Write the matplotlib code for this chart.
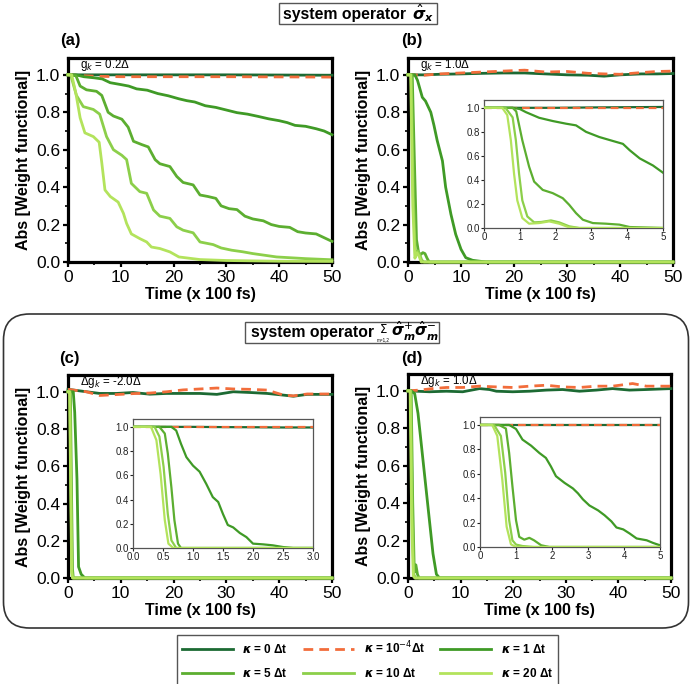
import matplotlib
matplotlib.use("Agg")
import matplotlib.pyplot as plt
from matplotlib.patches import FancyBboxPatch, Rectangle

plt.rcParams['font.family'] = ['Liberation Sans', 'DejaVu Sans']
plt.rcParams['mathtext.fontset'] = 'custom'
plt.rcParams['mathtext.rm'] = 'DejaVu Sans'
plt.rcParams['mathtext.it'] = 'DejaVu Sans:italic'
plt.rcParams['mathtext.bf'] = 'DejaVu Sans:italic:bold'

# ---------------- colours / labels ----------------
kappa_labels = [r"$\mathbf{\kappa}$ = 0 Δt", r"$\mathbf{\kappa}$ = 10$^{-4}$Δt",
                r"$\mathbf{\kappa}$ = 1 Δt", r"$\mathbf{\kappa}$ = 5 Δt",
                r"$\mathbf{\kappa}$ = 10 Δt", r"$\mathbf{\kappa}$ = 20 Δt"]
colors = ['#1c6a33', '#f26d3b', '#3f9a26', '#5cae30', '#8ccf4a', '#b3e35c']

# ---------------- panel (a) ----------------
a_k0_t = [0, 10, 20, 30, 40, 50]
a_k0_y = [1.0, 1.0, 1.0, 1.0, 0.999, 0.998]
a_k4_t = [0, 3, 6, 10, 20, 30, 40, 50]
a_k4_y = [1.0, 0.995, 0.992, 0.99, 0.99, 0.99, 0.989, 0.988]
a_k1_t = [0, 1.5, 3, 5, 6.5, 8, 10, 11.5, 13, 15, 17, 19, 21, 22.5, 24, 26, 28, 30, 32, 34,
          36, 38, 40, 41.5, 43, 45, 47, 48.5, 50]
a_k1_y = [1.0, 1.0, 0.99, 0.984, 0.978, 0.958, 0.948, 0.94, 0.925, 0.918, 0.9, 0.888, 0.872,
          0.862, 0.855, 0.835, 0.826, 0.812, 0.798, 0.79, 0.778, 0.765, 0.755, 0.745, 0.73,
          0.725, 0.712, 0.7, 0.68]
a_k5_t = [0, 1.5, 2.3, 3.5, 5.4, 6.4, 7.6, 8.6, 10.2, 11.4, 12.4, 14, 15.2, 16.5, 17.4, 19.3,
          20.6, 21.8, 23.7, 25, 26.5, 28, 29, 30.5, 32, 33.5, 35, 37, 38.5, 40, 42, 43.5, 45,
          47, 48.5, 50]
a_k5_y = [1.0, 0.995, 0.94, 0.92, 0.912, 0.89, 0.8, 0.78, 0.763, 0.72, 0.645, 0.627, 0.615,
          0.547, 0.525, 0.51, 0.457, 0.425, 0.412, 0.358, 0.35, 0.34, 0.3, 0.285, 0.28, 0.245,
          0.23, 0.22, 0.2, 0.19, 0.185, 0.162, 0.155, 0.15, 0.13, 0.11]
a_k10_t = [0, 0.5, 1.6, 2.9, 4.8, 6, 7.3, 8.6, 10.2, 11.1, 12, 13.6, 14.9, 16.2, 17.4, 19.3,
           20.6, 21.8, 23.7, 25, 27.5, 29, 31, 33, 35, 39.5, 45, 50]
a_k10_y = [1.0, 1.0, 0.89, 0.83, 0.815, 0.79, 0.67, 0.6, 0.57, 0.547, 0.42, 0.376, 0.367,
           0.278, 0.245, 0.233, 0.188, 0.17, 0.156, 0.107, 0.093, 0.075, 0.063, 0.055, 0.045,
           0.027, 0.018, 0.012]
a_k20_t = [0, 0.7, 1.5, 2.3, 3.2, 4.8, 5.9, 6.4, 7, 8, 9.5, 10.5, 11.1, 12, 13.6, 14.9, 15.8,
           17.4, 19.3, 21, 25, 30, 40, 50]
a_k20_y = [1.0, 1.0, 0.9, 0.77, 0.69, 0.67, 0.64, 0.53, 0.385, 0.35, 0.32, 0.26, 0.206, 0.15,
           0.125, 0.107, 0.08, 0.072, 0.054, 0.027, 0.013, 0.008, 0.004, 0.003]

# ---------------- panel (b) ----------------
b_flat_t = [0, 3, 6, 10, 14, 18, 22, 26, 30, 34, 37, 40, 44, 47, 50]
b_k0_y = [1.0, 1.0, 1.003, 1.005, 1.008, 1.01, 1.01, 1.005, 1.0, 0.998, 0.993, 1.0, 1.005, 1.005, 1.007]
b_k4_y = [1.0, 0.998, 1.005, 1.01, 1.015, 1.02, 1.025, 1.015, 1.018, 1.008, 1.005, 1.003, 1.012, 1.018, 1.02]
b_k1_t = [0, 1.3, 1.8, 2.7, 3.3, 4.3, 4.9, 5.5, 6.5, 7.1, 8.1, 9.0, 10.0, 10.9, 12.2, 14.7, 50]
b_k1_y = [1.0, 1.0, 0.97, 0.88, 0.86, 0.8, 0.73, 0.65, 0.54, 0.4, 0.255, 0.148, 0.068, 0.023,
          0.009, 0.0, 0.0]
b_k5_t = [0, 0.8, 1.2, 1.6, 2.0, 2.4, 2.8, 3.2, 3.6, 4.0, 50]
b_k5_y = [1.0, 1.0, 0.55, 0.12, 0.05, 0.04, 0.05, 0.045, 0.02, 0.0, 0.0]
b_k10_t = [0, 0.6, 1.0, 1.4, 1.8, 2.2, 2.6, 3.0, 50]
b_k10_y = [1.0, 1.0, 0.35, 0.03, 0.06, 0.04, 0.01, 0.0, 0.0]
b_k20_t = [0, 0.5, 0.9, 1.3, 1.7, 2.1, 2.5, 50]
b_k20_y = [1.0, 1.0, 0.3, 0.02, 0.05, 0.03, 0.0, 0.0]
# inset (b)
bi_flat_t = [0, 1, 2, 3, 4, 5]
bi_k0_y = [1.0, 1.0, 1.0, 1.003, 1.005, 1.007]
bi_k4_y = [1.0, 1.0, 1.0, 1.0, 1.0, 1.0]
bi_k1_t = [0, 0.8, 1.0, 1.17, 1.54, 1.92, 2.29, 2.57, 2.85, 3.22, 3.6, 3.88, 4.07, 4.35, 4.72, 5.0]
bi_k1_y = [1.0, 1.0, 0.99, 0.964, 0.917, 0.89, 0.868, 0.854, 0.8, 0.757, 0.724, 0.70, 0.647,
           0.579, 0.52, 0.46]
bi_k5_t = [0, 0.8, 0.9, 1.07, 1.26, 1.4, 1.64, 1.92, 2.2, 2.38, 2.57, 2.76, 3.04, 3.4, 3.78, 4.07, 5.0]
bi_k5_y = [1.0, 1.0, 0.97, 0.73, 0.51, 0.386, 0.317, 0.29, 0.248, 0.193, 0.124, 0.069, 0.041,
           0.036, 0.028, 0.008, 0.0]
bi_k10_t = [0, 0.6, 0.8, 0.89, 0.98, 1.07, 1.21, 1.4, 1.6, 1.87, 2.1, 2.38, 2.66, 5.0]
bi_k10_y = [1.0, 1.0, 0.92, 0.73, 0.45, 0.23, 0.096, 0.047, 0.05, 0.063, 0.047, 0.014, 0.0, 0.0]
bi_k20_t = [0, 0.51, 0.65, 0.75, 0.84, 0.93, 1.07, 1.26, 1.54, 1.82, 2.1, 2.38, 2.66, 5.0]
bi_k20_y = [1.0, 1.0, 0.94, 0.73, 0.45, 0.23, 0.083, 0.036, 0.041, 0.055, 0.036, 0.005, 0.0, 0.0]

# ---------------- panel (c) ----------------
c_flat_t = [0, 3.5, 6, 9.2, 12.3, 15.5, 18.7, 21.8, 25, 28.2, 31.3, 34.5, 37.7, 40.8, 42.7, 45.3, 50]
c_k0_y = [1.013, 1.0, 0.991, 0.991, 0.996, 0.987, 0.991, 0.991, 0.991, 0.986, 1.0, 0.996,
          0.991, 0.982, 0.976, 0.986, 0.986]
c_k4_y = [1.013, 1.0, 0.98, 0.985, 0.99, 0.993, 1.0, 1.01, 1.015, 1.02, 1.015, 1.013, 1.009,
          0.982, 0.978, 0.988, 0.988]
c_k1_t = [0, 1.0, 1.27, 1.7, 2.0, 2.5, 3.2, 50]
c_k1_y = [1.0, 1.0, 0.89, 0.53, 0.06, 0.02, 0.0, 0.0]
c_k5_t = [0, 0.45, 0.65, 0.85, 1.0, 50]
c_k5_y = [1.0, 1.0, 0.5, 0.05, 0.0, 0.0]
c_k10_t = [0, 0.35, 0.55, 0.75, 0.9, 50]
c_k10_y = [1.0, 1.0, 0.5, 0.04, 0.0, 0.0]
c_k20_t = [0, 0.3, 0.5, 0.7, 0.85, 50]
c_k20_y = [1.0, 1.0, 0.5, 0.03, 0.0, 0.0]
# inset (c)
ci_flat_t = [0, 0.5, 1, 1.5, 2, 2.5, 3]
ci_k0_y = [1.0, 1.0, 1.0, 0.998, 0.997, 0.995, 0.995]
ci_k4_y = [1.0, 1.0, 1.0, 1.0, 1.0, 1.0, 1.0]
ci_k1_t = [0, 0.64, 0.72, 0.8, 0.89, 1.0, 1.11, 1.22, 1.33, 1.42, 1.5, 1.58, 1.67, 1.78, 1.89,
           2.0, 2.17, 2.33, 2.5, 2.67, 3.0]
ci_k1_y = [1.0, 1.0, 0.97, 0.86, 0.75, 0.68, 0.63, 0.53, 0.42, 0.38, 0.28, 0.19, 0.17, 0.124,
           0.09, 0.036, 0.03, 0.022, 0.008, 0.0, 0.0]
ci_k5_t = [0, 0.44, 0.53, 0.58, 0.64, 0.69, 0.75, 0.8, 3.0]
ci_k5_y = [1.0, 1.0, 0.945, 0.78, 0.5, 0.23, 0.036, 0.0, 0.0]
ci_k10_t = [0, 0.36, 0.44, 0.51, 0.58, 0.64, 0.72, 3.0]
ci_k10_y = [1.0, 1.0, 0.92, 0.67, 0.28, 0.063, 0.0, 0.0]
ci_k20_t = [0, 0.3, 0.39, 0.46, 0.53, 0.59, 0.67, 3.0]
ci_k20_y = [1.0, 1.0, 0.89, 0.61, 0.23, 0.036, 0.0, 0.0]

# ---------------- panel (d) ----------------
d_k0_t = [0, 4.1, 7.3, 10.4, 13.6, 15.5, 16.8, 19.9, 23.1, 26.3, 29.4, 32.6, 35.8, 38.9, 42.1, 45.3, 50]
d_k0_y = [1.0, 0.995, 0.998, 0.995, 1.012, 1.007, 0.998, 0.995, 0.998, 1.004, 1.007, 0.998,
          1.004, 1.012, 1.004, 1.007, 1.012]
d_k4_t = [0, 2.2, 4.7, 7.3, 10.4, 13.6, 16.8, 19.9, 23.1, 26.3, 29.4, 32.6, 35.8, 38.9, 42.7, 45.3, 50]
d_k4_y = [1.0, 1.004, 1.012, 1.018, 1.018, 1.025, 1.021, 1.018, 1.025, 1.03, 1.021, 1.018,
          1.025, 1.025, 1.039, 1.025, 1.025]
d_k1_t = [0, 0.6, 1.27, 1.9, 2.85, 3.8, 4.75, 5.4, 6.0, 50]
d_k1_y = [1.0, 1.0, 0.985, 0.88, 0.63, 0.38, 0.13, 0.02, 0.0, 0.0]
d_k5_t = [0, 0.6, 0.9, 1.2, 1.5, 1.8, 2.1, 50]
d_k5_y = [1.0, 1.0, 0.4, 0.03, 0.07, 0.02, 0.0, 0.0]
d_k10_t = [0, 0.5, 0.8, 1.1, 1.4, 50]
d_k10_y = [1.0, 1.0, 0.35, 0.02, 0.0, 0.0]
d_k20_t = [0, 0.4, 0.7, 1.0, 1.3, 50]
d_k20_y = [1.0, 1.0, 0.3, 0.01, 0.0, 0.0]
# inset (d)
di_flat_t = [0, 1, 2, 3, 4, 5]
di_k0_y = [1.0, 1.0, 1.0, 1.0, 1.0, 1.0]
di_k4_y = [1.0, 1.0, 1.0, 1.0, 1.0, 1.0]
di_k1_t = [0, 0.81, 1.0, 1.18, 1.42, 1.65, 1.83, 1.97, 2.11, 2.35, 2.58, 2.72, 2.86, 3.04, 3.28,
           3.46, 3.65, 3.79, 3.98, 4.16, 4.35, 4.63, 4.81, 5.0]
di_k1_y = [1.0, 1.0, 0.967, 0.88, 0.83, 0.77, 0.73, 0.66, 0.58, 0.525, 0.48, 0.44, 0.39, 0.34,
           0.30, 0.26, 0.21, 0.16, 0.144, 0.11, 0.07, 0.055, 0.033, 0.014]
di_k5_t = [0, 0.53, 0.72, 0.81, 0.9, 1.0, 1.09, 1.23, 1.37, 1.5, 1.7, 1.93, 5.0]
di_k5_y = [1.0, 1.0, 0.97, 0.77, 0.5, 0.22, 0.083, 0.06, 0.075, 0.055, 0.014, 0.0, 0.0]
di_k10_t = [0, 0.39, 0.58, 0.7, 0.81, 0.9, 1.0, 1.18, 1.5, 5.0]
di_k10_y = [1.0, 1.0, 0.91, 0.61, 0.22, 0.055, 0.02, 0.008, 0.0, 0.0]
di_k20_t = [0, 0.34, 0.48, 0.62, 0.74, 0.86, 1.0, 5.0]
di_k20_y = [1.0, 1.0, 0.91, 0.55, 0.166, 0.022, 0.0, 0.0]

# ---------------- figure ----------------
W, H = 692, 684
fig = plt.figure(figsize=(W / 100, H / 100), dpi=100)
fig.patch.set_facecolor('white')


def fr(x0, y0, x1, y1):
    return [x0 / W, 1 - y1 / H, (x1 - x0) / W, (y1 - y0) / H]


bg = fig.add_axes([0, 0, 1, 1], zorder=-1)
bg.set_xlim(0, W)
bg.set_ylim(H, 0)
bg.axis('off')

# rounded box around lower panels
bg.add_patch(FancyBboxPatch((3.5, 314), 685, 314, boxstyle="round,pad=0,rounding_size=26",
                            fc='none', ec='#333333', lw=1.2))
# title box 1
bg.add_patch(Rectangle((279, 3), 158, 21, fc='white', ec='#555555', lw=1.0))
bg.text(283, 14, "system operator", fontsize=11.3, fontweight='bold', ha='left', va='center')
bg.text(412, 13, r"$\hat{\mathbf{\sigma}}_{\mathbf{x}}$", fontsize=11.5, ha='left', va='center')
# title box 2
bg.add_patch(Rectangle((245, 322), 194, 21, fc='white', ec='#555555', lw=1.0))
bg.text(251, 332, "system operator", fontsize=11.3, fontweight='bold', ha='left', va='center')
bg.text(383.5, 329.5, r"$\mathit{\Sigma}$", fontsize=8.5, ha='center', va='center')
bg.text(383.5, 339.5, "m=1,2", fontsize=3.3, ha='center', va='center')
bg.text(391, 331, r"$\hat{\mathbf{\sigma}}^{+}_{\mathbf{m}}\hat{\mathbf{\sigma}}^{-}_{\mathbf{m}}$",
        fontsize=11, ha='left', va='center')

main_specs = [
    ("(a)", fr(68, 58, 332, 262), (60, 40), "g$_k$ = 0.2Δ",
     [(a_k0_t, a_k0_y), (a_k4_t, a_k4_y), (a_k1_t, a_k1_y), (a_k5_t, a_k5_y),
      (a_k10_t, a_k10_y), (a_k20_t, a_k20_y)], None),
    ("(b)", fr(408, 58, 673, 262), (401, 40), "g$_k$ = 1.0Δ",
     [(b_flat_t, b_k0_y), (b_flat_t, b_k4_y), (b_k1_t, b_k1_y), (b_k5_t, b_k5_y),
      (b_k10_t, b_k10_y), (b_k20_t, b_k20_y)],
     (fr(484, 100, 663, 228), 5, [0, 1, 2, 3, 4, 5], ["0", "1", "2", "3", "4", "5"],
      [(bi_flat_t, bi_k0_y), (bi_flat_t, bi_k4_y), (bi_k1_t, bi_k1_y), (bi_k5_t, bi_k5_y),
       (bi_k10_t, bi_k10_y), (bi_k20_t, bi_k20_y)])),
    ("(c)", fr(68, 375, 332, 578), (59, 358), "Δg$_k$ = -2.0Δ",
     [(c_flat_t, c_k0_y), (c_flat_t, c_k4_y), (c_k1_t, c_k1_y), (c_k5_t, c_k5_y),
      (c_k10_t, c_k10_y), (c_k20_t, c_k20_y)],
     (fr(133, 419, 313, 548), 3, [0, 0.5, 1, 1.5, 2, 2.5, 3],
      ["0.0", "0.5", "1.0", "1.5", "2.0", "2.5", "3.0"],
      [(ci_flat_t, ci_k0_y), (ci_flat_t, ci_k4_y), (ci_k1_t, ci_k1_y), (ci_k5_t, ci_k5_y),
       (ci_k10_t, ci_k10_y), (ci_k20_t, ci_k20_y)])),
    ("(d)", fr(408, 374, 671, 578), (401, 358), "Δg$_k$ = 1.0Δ",
     [(d_k0_t, d_k0_y), (d_k4_t, d_k4_y), (d_k1_t, d_k1_y), (d_k5_t, d_k5_y),
      (d_k10_t, d_k10_y), (d_k20_t, d_k20_y)],
     (fr(480, 417, 660, 547), 5, [0, 1, 2, 3, 4, 5], ["0", "1", "2", "3", "4", "5"],
      [(di_flat_t, di_k0_y), (di_flat_t, di_k4_y), (di_k1_t, di_k1_y), (di_k5_t, di_k5_y),
       (di_k10_t, di_k10_y), (di_k20_t, di_k20_y)])),
]

legend_handles = None
for label, pos, lpos, note, series, inset in main_specs:
    ax = fig.add_axes(pos)
    handles = []
    for i, (t, y) in enumerate(series):
        ls = (0, (3.5, 2.2)) if i == 1 else '-'
        ln, = ax.plot(t, y, color=colors[i], lw=2.0, ls=ls, zorder=3 + i * 0.1,
                      clip_on=False, label=kappa_labels[i])
        handles.append(ln)
    if legend_handles is None:
        legend_handles = handles
    ax.set_xlim(0, 50)
    ax.set_ylim(0, 1.09)
    ax.set_xticks([0, 10, 20, 30, 40, 50])
    ax.set_xticks([5, 15, 25, 35, 45], minor=True)
    ax.set_yticks([0, 0.2, 0.4, 0.6, 0.8, 1.0])
    ax.set_yticks([0.1, 0.3, 0.5, 0.7, 0.9], minor=True)
    ax.set_yticklabels(["0.0", "0.2", "0.4", "0.6", "0.8", "1.0"])
    ax.tick_params(which='major', direction='out', length=3.5, width=1.6, labelsize=12.5, pad=2)
    ax.tick_params(which='minor', direction='out', length=2, width=1.2)
    for sp in ax.spines.values():
        sp.set_linewidth(2.3)
        sp.set_zorder(2.5)
    ax.set_xlabel("Time (x 100 fs)", fontsize=11.5, fontweight='bold', labelpad=2)
    ax.set_ylabel("Abs [Weight functional]", fontsize=11.5, fontweight='bold', labelpad=4)
    ax.text(0.046, 0.967, note, transform=ax.transAxes, fontsize=8.3, ha='left', va='center')
    fig.text(lpos[0] / W, 1 - lpos[1] / H, label, fontsize=12, fontweight='bold',
             ha='left', va='center')

    if inset is not None:
        ipos, xmax, xt, xtl, iseries = inset
        ia = fig.add_axes(ipos, zorder=5)
        for i, (t, y) in enumerate(iseries):
            ls = (0, (3.5, 2.2)) if i == 1 else '-'
            ia.plot(t, y, color=colors[i], lw=1.6, ls=ls, zorder=3 + i * 0.1)
        ia.set_xlim(0, xmax)
        ia.set_ylim(0, 1.065)
        ia.set_xticks(xt)
        ia.set_xticklabels(xtl)
        ia.set_yticks([0, 0.2, 0.4, 0.6, 0.8, 1.0])
        ia.set_yticklabels(["0.0", "0.2", "0.4", "0.6", "0.8", "1.0"])
        ia.tick_params(direction='out', length=2, width=0.8, labelsize=7, pad=1,
                       colors='#222222')
        for sp in ia.spines.values():
            sp.set_linewidth(0.9)
            sp.set_color('#555555')

order = [0, 3, 1, 4, 2, 5]
leg = fig.legend([legend_handles[i] for i in order], [kappa_labels[i] for i in order],
                 ncol=3, loc='center', bbox_to_anchor=(367.5 / W, 1 - 660 / H),
                 fancybox=False, edgecolor='#555555', framealpha=1,
                 prop={'weight': 'bold', 'size': 8.5}, handlelength=4.3, handletextpad=0.8,
                 columnspacing=1.3, labelspacing=0.9, borderpad=0.45)
leg.get_frame().set_linewidth(1.0)

fig.savefig("out.png", dpi=100)
